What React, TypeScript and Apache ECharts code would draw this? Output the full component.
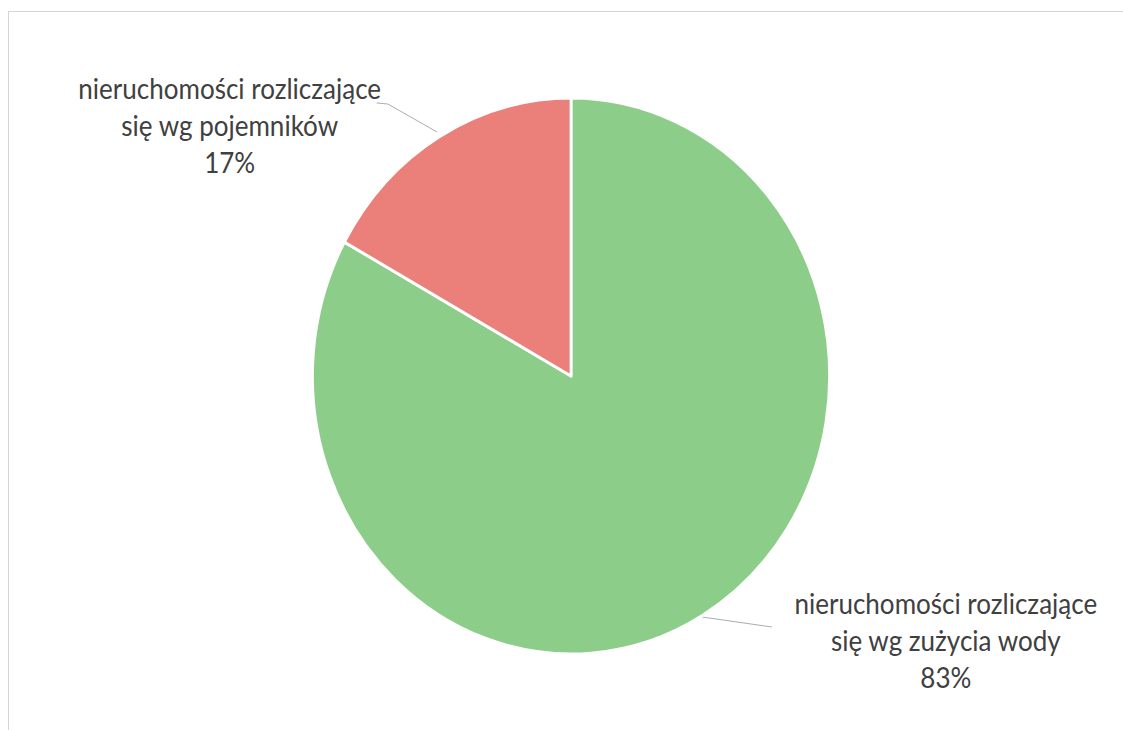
import React, { useEffect, useRef } from "react";
import * as echarts from "echarts";

const categories = [
  "nieruchomości rozliczające\nsię wg zużycia wody",
  "nieruchomości rozliczające\nsię wg pojemników",
];
const values = [83, 17];
const colors = ["#8ccd8a", "#eb7f79"];

const SX = 0.93;
const W = 1123 / SX;
const H = 730;

export default function App() {
  const ref = useRef<HTMLDivElement>(null);
  useEffect(() => {
    if (!ref.current) return;
    const chart = echarts.init(ref.current, undefined, { renderer: "svg" });
    const labelPos = [
      { x: 1017, y: 640, line: [[755, 617], [830, 627]] },
      { x: 247, y: 125, line: [[470, 132], [417, 104], [405, 103]] },
    ];
    chart.setOption({
      animation: false,
      series: [
        {
          type: "pie",
          center: [614, 376],
          radius: [0, 278],
          startAngle: 90,
          clockwise: true,
          data: categories.map((c, i) => ({
            name: c,
            value: values[i],
            itemStyle: { color: colors[i] },
          })),
          itemStyle: { borderColor: "#ffffff", borderWidth: 3 },
          label: {
            show: true,
            position: "outside",
            formatter: "{b}\n{d}%",
            color: "#404040",
            fontFamily: "Lato, 'Open Sans', sans-serif",
            fontSize: 28,
            lineHeight: 37,
            align: "center",
          },
          labelLine: {
            show: true,
            lineStyle: { color: "#a8a8b0", width: 1 },
          },
          labelLayout: (p: any) => {
            const l = labelPos[p.dataIndex];
            return {
              x: l.x,
              y: l.y,
              align: "center",
              verticalAlign: "middle",
              labelLinePoints: l.line,
            };
          },
          emphasis: { disabled: true },
        },
      ],
    });
    return () => chart.dispose();
  }, []);
  return (
    <div style={{ position: "fixed", left: 0, top: 0, width: 1123, height: 730, overflow: "hidden", background: "#fff" }}>
      <div
        style={{
          position: "absolute",
          left: 8,
          top: 11,
          width: 1200,
          height: 800,
          borderTop: "1.5px solid #d4d4d4",
          borderLeft: "1.5px solid #d4d4d4",
        }}
      />
      <div
        ref={ref}
        style={{
          position: "absolute",
          left: 0,
          top: 0,
          width: W,
          height: H,
          transform: `scaleX(${SX})`,
          transformOrigin: "0 0",
        }}
      />
    </div>
  );
}
